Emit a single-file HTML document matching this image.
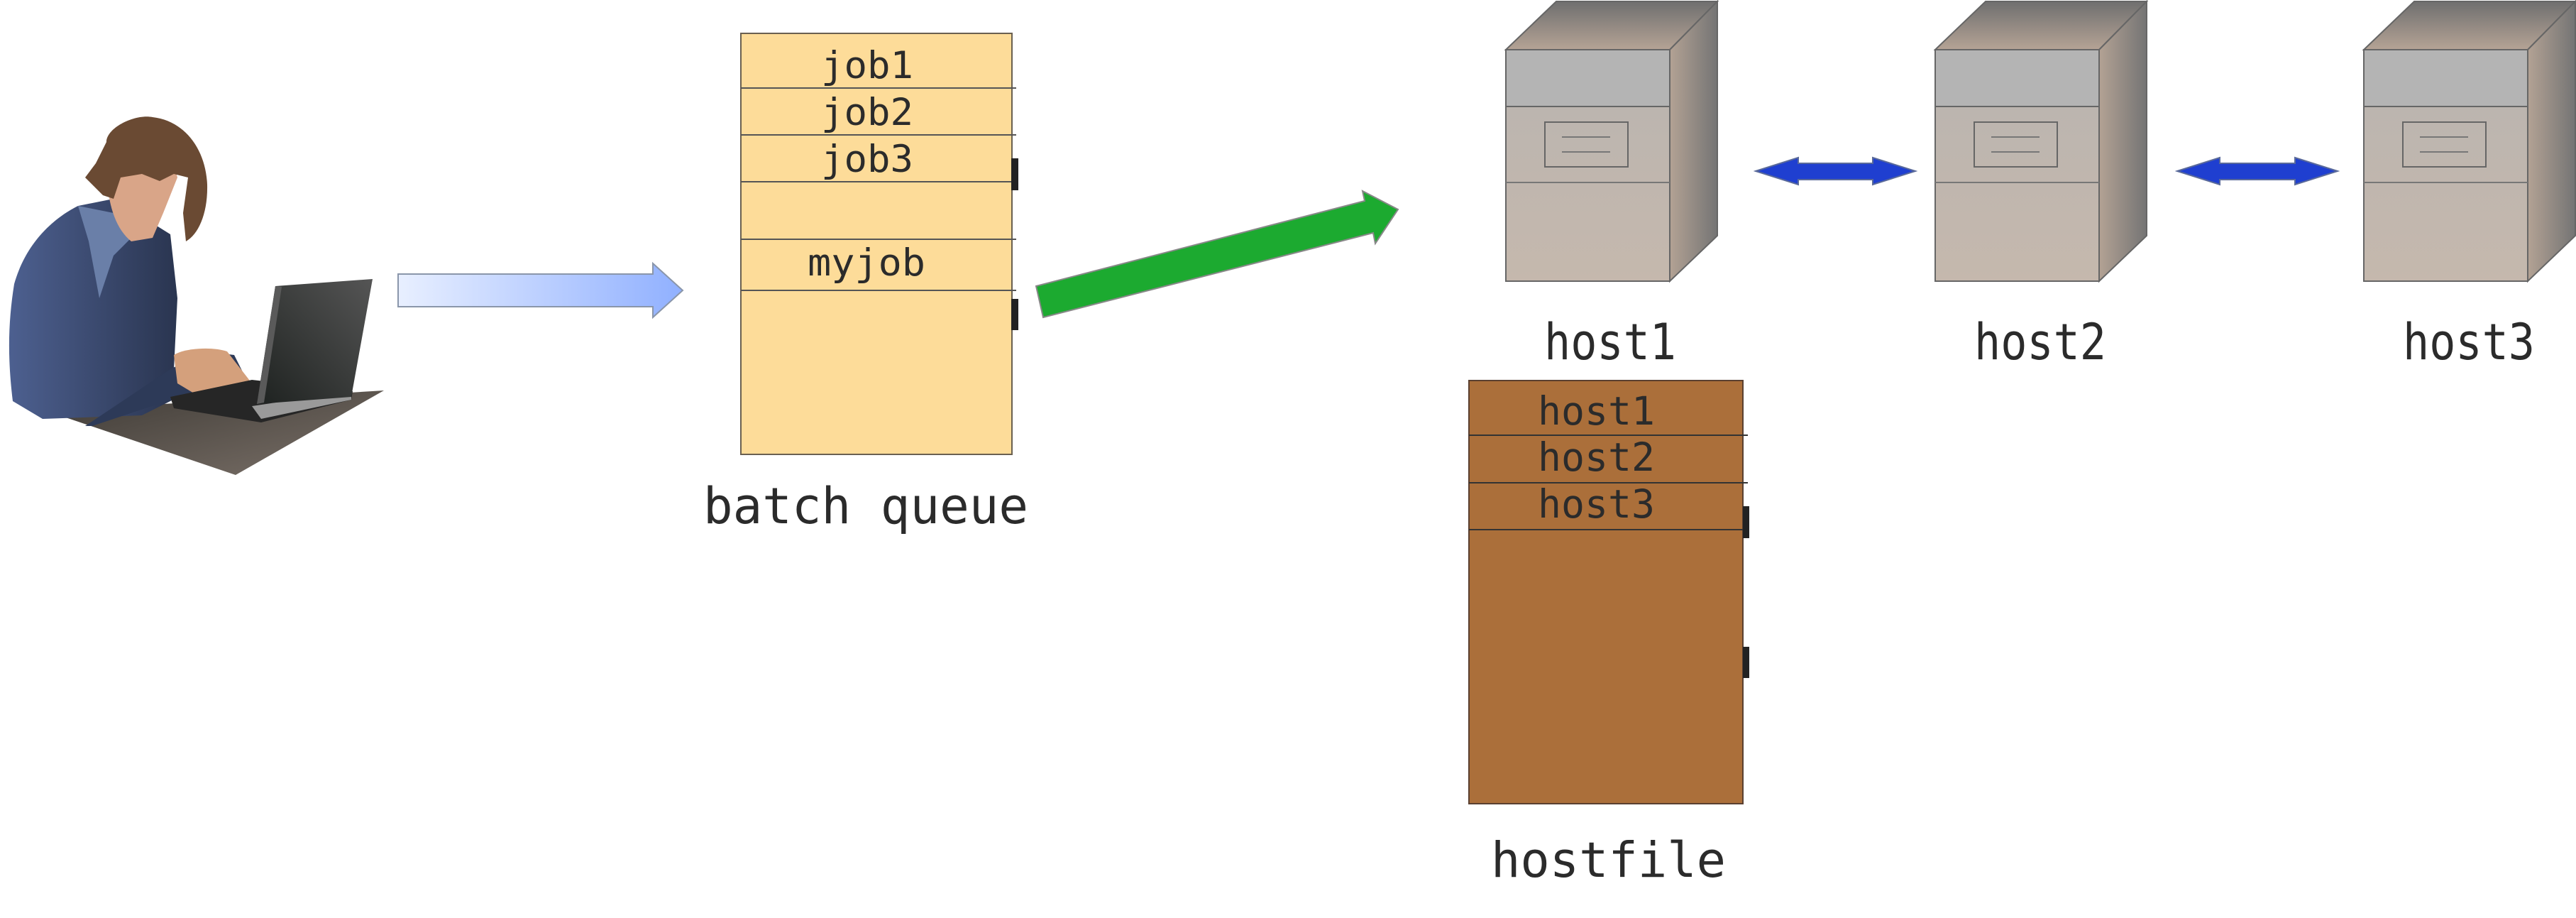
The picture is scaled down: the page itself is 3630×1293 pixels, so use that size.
<!DOCTYPE html>
<html><head><meta charset="utf-8"><style>
html,body{margin:0;padding:0;background:#fff;}
svg{display:block;}
text{font-family:"DejaVu Sans Mono","Liberation Mono",monospace;fill:#2b2b2b;}
</style></head><body>
<svg width="3630" height="1293" viewBox="0 0 3630 1293" xmlns="http://www.w3.org/2000/svg">
<defs>
<linearGradient id="blueg" x1="0" x2="1" y1="0" y2="0"><stop offset="0" stop-color="#e8efff"/><stop offset="1" stop-color="#90b0ff"/></linearGradient>
<linearGradient id="topg" x1="0" x2="0" y1="0" y2="1"><stop offset="0" stop-color="#6f6f6f"/><stop offset="1" stop-color="#b5a395"/></linearGradient>
<linearGradient id="sideg" x1="0" x2="1" y1="0" y2="0"><stop offset="0" stop-color="#b3a294"/><stop offset="1" stop-color="#747474"/></linearGradient>
<linearGradient id="frontg" x1="0" x2="0" y1="0" y2="1"><stop offset="0" stop-color="#b9b4b0"/><stop offset="1" stop-color="#c5b8ad"/></linearGradient>
<linearGradient id="jacket" x1="0" x2="1" y1="0" y2="0"><stop offset="0" stop-color="#4d6090"/><stop offset="1" stop-color="#2a3550"/></linearGradient>
<linearGradient id="desk" x1="0" x2="1" y1="0" y2="1"><stop offset="0" stop-color="#3e3a35"/><stop offset="1" stop-color="#7a7068"/></linearGradient>
<linearGradient id="screen" x1="0" x2="1" y1="1" y2="0"><stop offset="0" stop-color="#1e2220"/><stop offset="1" stop-color="#555"/></linearGradient>
</defs>

<!-- person -->
<polygon points="66,579 541,550 332,669" fill="url(#desk)"/>
<path d="M20,400 C40,330 90,300 110,290 L160,280 L240,330 L250,420 L245,520 L250,560 L200,585 L60,590 L18,565 C10,500 12,450 20,400 Z" fill="url(#jacket)"/>
<path d="M110,290 L125,340 L140,420 L160,360 L190,330 L160,300 Z" fill="#6a7fa8"/>
<path d="M150,230 C150,280 160,320 185,340 L215,335 L230,300 L250,250 L240,210 L190,200 Z" fill="#d9a588"/>
<path d="M150,200 C150,180 190,160 215,165 C260,170 290,210 292,260 C293,300 280,330 262,340 L258,300 L265,250 L245,245 L225,255 L200,245 L170,250 L160,280 L145,275 L120,250 L135,230 Z" fill="#6a4a33"/>
<path d="M120,600 L240,520 L290,495 L330,500 L350,540 L345,565 L250,560 L130,600 Z" fill="#2d3a58"/>
<path d="M245,500 C260,490 300,488 320,495 L355,540 L350,570 L300,570 L250,540 Z" fill="#d4a07c"/>
<polygon points="240,559 355,535 497,551 495,563 368,595 245,575" fill="#262626"/>
<polygon points="355,572 495,551 495,563 368,590" fill="#9a9a9a"/>
<polygon points="388,403 525,393 495,559 362,569" fill="url(#screen)"/>
<polygon points="388,403 397,404 372,567 362,569" fill="#5a5a5a"/>

<!-- blue arrow -->
<polygon points="561,386 920,386 920,371 962,409 920,447 920,432 561,432" fill="url(#blueg)" stroke="#8a96aa" stroke-width="2"/>

<!-- batch queue -->
<rect x="1044" y="47" width="382" height="593" fill="#fddc99" stroke="#6a6050" stroke-width="2"/>
<g stroke="#555" stroke-width="2">
<line x1="1044" y1="124" x2="1432" y2="124"/>
<line x1="1044" y1="190" x2="1432" y2="190"/>
<line x1="1044" y1="256" x2="1432" y2="256"/>
<line x1="1044" y1="337" x2="1432" y2="337"/>
<line x1="1044" y1="409" x2="1432" y2="409"/>
</g>
<rect x="1425" y="223" width="10" height="45" fill="#222"/>
<rect x="1425" y="421" width="10" height="44" fill="#222"/>
<g font-size="53">
<text x="1157" y="110" textLength="130" lengthAdjust="spacingAndGlyphs">job1</text>
<text x="1157" y="176" textLength="130" lengthAdjust="spacingAndGlyphs">job2</text>
<text x="1157" y="242" textLength="130" lengthAdjust="spacingAndGlyphs">job3</text>
<text x="1138" y="388" textLength="166" lengthAdjust="spacingAndGlyphs">myjob</text>
</g>
<text x="991" y="737" font-size="70" textLength="458" lengthAdjust="spacingAndGlyphs">batch queue</text>

<!-- green arrow -->
<polygon points="1460,403 1923,283 1920,269 1970,295 1938,343 1935,328 1470,447" fill="#1caa30" stroke="#888" stroke-width="2"/>

<!-- servers -->
<g id="srv">
<polygon points="2122,70 2193,2 2420,2 2353,70" fill="url(#topg)" stroke="#666" stroke-width="2"/>
<polygon points="2353,70 2420,2 2420,332 2353,396" fill="url(#sideg)" stroke="#666" stroke-width="2"/>
<rect x="2122" y="70" width="231" height="326" fill="url(#frontg)" stroke="#666" stroke-width="2"/>
<rect x="2122" y="70" width="231" height="80" fill="#b4b4b4" stroke="#666" stroke-width="2"/>
<line x1="2122" y1="257" x2="2353" y2="257" stroke="#777" stroke-width="2"/>
<rect x="2177" y="172" width="117" height="63" fill="none" stroke="#666" stroke-width="2"/>
<line x1="2201" y1="193" x2="2269" y2="193" stroke="#777" stroke-width="2"/>
<line x1="2201" y1="214" x2="2269" y2="214" stroke="#777" stroke-width="2"/>
</g>
<use href="#srv" x="605"/>
<use href="#srv" x="1209"/>
<g font-size="70">
<text x="2176" y="506" textLength="186" lengthAdjust="spacingAndGlyphs">host1</text>
<text x="2782" y="506" textLength="186" lengthAdjust="spacingAndGlyphs">host2</text>
<text x="3386" y="506" textLength="186" lengthAdjust="spacingAndGlyphs">host3</text>
</g>

<!-- double arrows -->
<polygon points="2474,241 2534,222 2534,230 2639,230 2639,222 2699,241 2639,260 2639,253 2534,253 2534,260" fill="#1f3fd0" stroke="#5a6a9a" stroke-width="2"/>
<polygon points="3068,241 3128,222 3128,230 3234,230 3234,222 3294,241 3234,260 3234,253 3128,253 3128,260" fill="#1f3fd0" stroke="#5a6a9a" stroke-width="2"/>

<!-- hostfile -->
<rect x="2070" y="536" width="386" height="596" fill="#ab6f3a" stroke="#5a4030" stroke-width="2"/>
<g stroke="#333" stroke-width="2">
<line x1="2070" y1="613" x2="2463" y2="613"/>
<line x1="2070" y1="680" x2="2463" y2="680"/>
<line x1="2070" y1="746" x2="2463" y2="746"/>
</g>
<rect x="2456" y="713" width="9" height="45" fill="#222"/>
<rect x="2456" y="911" width="9" height="44" fill="#222"/>
<g font-size="55">
<text x="2167" y="598" textLength="165" lengthAdjust="spacingAndGlyphs">host1</text>
<text x="2167" y="663" textLength="165" lengthAdjust="spacingAndGlyphs">host2</text>
<text x="2167" y="729" textLength="165" lengthAdjust="spacingAndGlyphs">host3</text>
</g>
<text x="2101" y="1235" font-size="69" textLength="331" lengthAdjust="spacingAndGlyphs">hostfile</text>
</svg>
</body></html>
